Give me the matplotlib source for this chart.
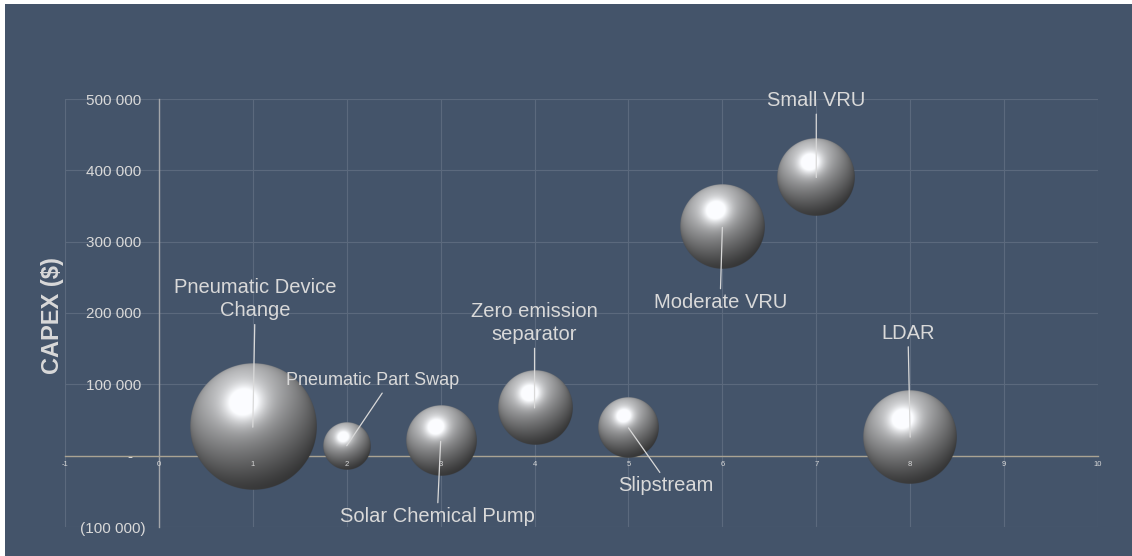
import numpy as np
import matplotlib
matplotlib.use('Agg')
import matplotlib.pyplot as plt
from matplotlib.patches import Rectangle

# ---------------- data ----------------
categories = ["Pneumatic Device\nChange", "Pneumatic Part Swap", "Solar Chemical Pump",
              "Zero emission\nseparator", "Slipstream", "Moderate VRU", "Small VRU", "LDAR"]
x_vals = [1, 2, 3, 4, 5, 6, 7, 8]
capex = [40000, 14000, 20000, 67000, 39000, 320000, 390000, 26000]
bubble_size = [100, 14.5, 31, 34.5, 22.7, 44.5, 38.3, 55.6]

y_ticks = [-100000, 0, 100000, 200000, 300000, 400000, 500000]
y_tick_labels = ["(100 000)", "-   ", "100 000 ", "200 000 ", "300 000 ", "400 000 ", "500 000 "]
x_ticks = list(range(-1, 11))
x_tick_labels = [str(v) for v in x_ticks]

# label offsets (pixels) from bubble centre, and leader attach point on text box
label_offsets = [(2, 128), (26, 65), (-3, -75), (0, 85), (37, -58), (-2, -75), (0, 77), (-2, 104)]
label_relpos = [(0.5, 0), (0.57, 0), (0.5, 1), (0.5, 0), (0.47, 1), (0.5, 1), (0.5, 0), (0.5, 0)]
label_fontsize = [14.5, 13.0, 14.5, 14.5, 14.5, 14.5, 14.5, 14.5]

BG = '#44546a'
TXT = '#d9d9d9'
GRID = '#5b697d'

W, H = 1132, 556
fig = plt.figure(figsize=(W / 100, H / 100), dpi=100, facecolor='white')
fig.patches.append(Rectangle((5 / W, 0), 1 - 5 / W, 1 - 4 / H, transform=fig.transFigure,
                             facecolor=BG, edgecolor='none', zorder=-10))
ax = fig.add_axes([65 / W, 1 - 527 / H, (1098 - 65) / W, (527 - 99) / H])
ax.set_facecolor('none')
ax.set_xlim(-1, 10)
ax.set_ylim(-100000, 500000)

ax.set_xticks(x_ticks)
ax.set_xticklabels(x_tick_labels)
ax.set_yticks(y_ticks)
ax.set_yticklabels(y_tick_labels)
ax.grid(False)
for xv in x_ticks:
    ax.axvline(xv, color=GRID, lw=0.8, zorder=0)
for yv in y_ticks:
    ax.axhline(yv, color=GRID, lw=0.8, zorder=0)
ax.xaxis.set_zorder(6)
ax.yaxis.set_zorder(6)

ax.spines['top'].set_visible(False)
ax.spines['right'].set_visible(False)
ax.spines['left'].set_position(('data', 0))
ax.spines['bottom'].set_position(('data', 0))
ax.spines['left'].set_color('#a3a6aa')
ax.spines['bottom'].set_color('#aaa393')
ax.spines['left'].set_linewidth(1.0)
ax.spines['bottom'].set_linewidth(1.0)
ax.spines['left'].set_zorder(1)
ax.spines['bottom'].set_zorder(1)

ax.tick_params(axis='y', length=0, pad=9.4, labelsize=11, labelcolor=TXT)
ax.tick_params(axis='x', length=0, pad=4, labelsize=5.5, labelcolor=TXT)
for t in ax.get_yticklabels() + ax.get_xticklabels():
    t.set_fontfamily('Liberation Sans')

fig.text(52 / W, 1 - 316 / H, "CAPEX ($)", rotation=90, ha='center', va='center',
         fontsize=17, fontweight='bold', color=TXT, family='Liberation Sans')

# ---------------- spheres ----------------
H_vec = np.array([-0.15, 0.37, 0.0])
H_vec[2] = np.sqrt(1 - H_vec[0] ** 2 - H_vec[1] ** 2)
L_vec = 2 * H_vec[2] * H_vec - np.array([0, 0, 1.0])
L_vec /= np.linalg.norm(L_vec)


def sphere_img(rpx):
    n = int(rpx * 2 * 4)
    lin = np.linspace(-1, 1, n)
    u, v = np.meshgrid(lin, -lin)
    rho2 = u ** 2 + v ** 2
    rho = np.sqrt(rho2)
    w = np.sqrt(np.clip(1 - rho2, 0, 1))
    ndl = u * L_vec[0] + v * L_vec[1] + w * L_vec[2]
    hl = (0.5 * ndl + 0.5) ** 2
    spec = np.clip(u * H_vec[0] + v * H_vec[1] + w * H_vec[2], 0, 1)
    inten = 0.17 + 0.60 * hl + 0.14 * spec ** 10 + 0.34 * spec ** 25
    rim = np.clip(-v - 0.3, 0, 1) * (1 - w) ** 3
    inten += 0.10 * rim
    inten *= 0.9 + 0.1 * w ** 0.3
    inten = np.clip(inten, 0, 1)
    alpha = np.clip((1 - rho) * n / 2, 0, 1)
    img = np.zeros((n, n, 4))
    img[..., 0] = inten * 0.985
    img[..., 1] = inten * 0.99
    img[..., 2] = inten
    img[..., 3] = alpha
    return img


ppx = ax.bbox.width / 11.0
ppy = ax.bbox.height / 600000.0
max_r = 63.0
for xv, yv, s in zip(x_vals, capex, bubble_size):
    r = max_r * np.sqrt(s / max(bubble_size))
    rx, ry = r / ppx, r / ppy
    ax.imshow(sphere_img(r), extent=[xv - rx, xv + rx, yv - ry, yv + ry],
              aspect='auto', interpolation='antialiased', zorder=3)

ax.set_xlim(-1, 10)
ax.set_ylim(-100000, 500000)

for lab, xv, yv, off, rp, fs in zip(categories, x_vals, capex, label_offsets, label_relpos,
                                    label_fontsize):
    ax.annotate(lab, xy=(xv, yv), xytext=off, textcoords='offset pixels',
                ha='center', va='center', fontsize=fs, color=TXT, family='Liberation Sans',
                linespacing=1.3, zorder=7,
                arrowprops=dict(arrowstyle='-', color=TXT, lw=0.9, shrinkA=1, shrinkB=0,
                                relpos=rp))

fig.savefig('out.png', dpi=100, facecolor=fig.get_facecolor())
